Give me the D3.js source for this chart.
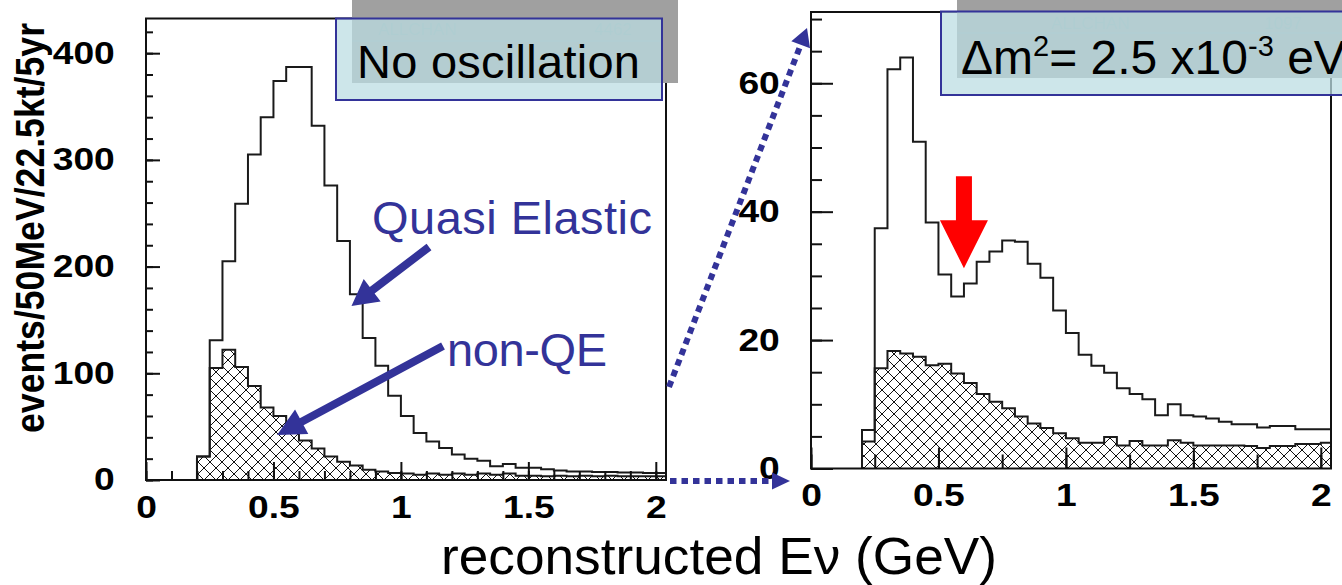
<!DOCTYPE html>
<html>
<head>
<meta charset="utf-8">
<script src="https://cdn.jsdelivr.net/npm/d3@7"></script>
<style>
  body { margin: 0; background: #fff; }
  svg { display: block; }
</style>
</head>
<body>
<svg id="chart" width="1342" height="585"></svg>
<script>
// 50 MeV bins starting at 0.2 GeV
const binLow = 0.2;
const binWidth = 0.05;

// no oscillation: total (QE + non-QE) and non-QE part
const totalNoOsc = [22, 131, 205, 259, 305, 340, 374, 387, 387, 332, 276, 224, 174, 133, 107, 79,
    60, 44, 36, 30, 24, 20, 18, 13, 15, 11.5, 11.5, 10, 9, 8, 8, 7.5, 7.5, 7, 7, 6.5, 6.5];
const nonQENoOsc = [22, 105, 122, 106, 88, 68, 60, 47, 37, 29.5, 22, 17, 13.5, 9.5, 8, 6.5,
    6, 5, 6, 5, 6, 5, 6, 5, 6, 4, 4, 3.5, 4, 3.5, 4, 3.5, 4, 3.5, 3.5, 3.5, 3.5];

// dm2 = 2.5e-3 eV2
const totalOsc = [6, 37.4, 62.2, 64, 50.9, 38.3, 30.2, 26.8, 28.8, 32.2, 33.8, 35.5, 35.3, 31.9, 29.7, 24.6,
    21.1, 17.7, 16, 14.9, 12.5, 11.6, 10.8, 8.3, 10, 8.3, 8.1, 7.8, 7.3, 6.9, 6.9, 6.4, 6.6, 6.6, 6.1, 6.1, 6.1];
const nonQEOsc = [4.2, 15.6, 18.3, 17.9, 17.4, 16.1, 16.3, 14.8, 13.3, 11.6, 10.4, 9.4, 8.1, 7, 6.3, 5.5,
    4.7, 4, 4, 4.9, 3.6, 4.3, 3.6, 3.6, 4.4, 4, 3.6, 3.6, 3.6, 3.6, 3.5, 3.2, 3.5, 3.5, 3.8, 3.8, 4];

const xTickLabels = [0, 0.5, 1, 1.5, 2];
const yTicksNoOsc = [0, 100, 200, 300, 400];
const yTicksOsc = [0, 20, 40, 60];

const FONT = "'Liberation Sans', Arial, Helvetica, sans-serif";
const BLUE = "#333399";

const svg = d3.select("#chart");
const defs = svg.append("defs");

const hatch = defs.append("pattern")
    .attr("id", "xhatch")
    .attr("patternUnits", "userSpaceOnUse")
    .attr("width", 12)
    .attr("height", 12);
hatch.append("path")
    .attr("d", "M0,0L12,12M12,0L0,12")
    .attr("stroke", "#111")
    .attr("stroke-width", 1);

function stepPoints(vals) {
    const pts = [[binLow, 0]];
    vals.forEach((v, i) => pts.push([binLow + i * binWidth, v]));
    const end = binLow + vals.length * binWidth;
    pts.push([end, vals[vals.length - 1]]);
    pts.push([end, 0]);
    return pts;
}

function drawPanel(p) {
    const x = d3.scaleLinear().domain([0, 2.04]).range([p.left, p.right]);
    const y = d3.scaleLinear().domain([0, p.yMax]).range([p.bottom, p.top]);

    const clipId = "clip-" + p.id;
    defs.append("clipPath").attr("id", clipId)
        .append("rect")
        .attr("x", p.left).attr("y", p.top)
        .attr("width", p.right - p.left).attr("height", p.bottom - p.top);

    const g = svg.append("g");
    const plot = g.append("g").attr("clip-path", `url(#${clipId})`);

    const area = d3.area()
        .x(d => x(d[0]))
        .y0(y(0))
        .y1(d => y(d[1]))
        .curve(d3.curveStepAfter);
    const line = d3.line()
        .x(d => x(d[0]))
        .y(d => y(d[1]))
        .curve(d3.curveStepAfter);

    plot.append("path")
        .attr("d", area(stepPoints(p.nonQE)))
        .attr("fill", "url(#xhatch)");
    plot.append("path")
        .attr("d", line(stepPoints(p.nonQE)))
        .attr("fill", "none")
        .attr("stroke", "#1a1a1a")
        .attr("stroke-width", 2);
    plot.append("path")
        .attr("d", line(stepPoints(p.total)))
        .attr("fill", "none")
        .attr("stroke", "#1a1a1a")
        .attr("stroke-width", 2);

    // ticks point inward, ROOT style
    const minorY = d3.range(0, p.yMax, p.yMinorStep);
    g.append("g")
        .attr("transform", `translate(${p.left},0)`)
        .call(d3.axisLeft(y).tickValues(minorY).tickSizeInner(-p.yMinorLen).tickSizeOuter(0).tickFormat(""))
        .call(s => s.select(".domain").remove());
    const yAx = g.append("g")
        .attr("transform", `translate(${p.left},0)`)
        .call(d3.axisLeft(y).tickValues(p.yTicks).tickSizeInner(-p.yMajorLen).tickSizeOuter(0).tickPadding(26))
        .call(s => s.select(".domain").remove());

    const minorX = d3.range(0, 2.04, p.xMinorStep);
    g.append("g")
        .attr("transform", `translate(0,${p.bottom})`)
        .call(d3.axisBottom(x).tickValues(minorX).tickSizeInner(-p.xMinorLen).tickSizeOuter(0).tickFormat(""))
        .call(s => s.select(".domain").remove());
    const xAx = g.append("g")
        .attr("transform", `translate(0,${p.bottom})`)
        .call(d3.axisBottom(x).tickValues(xTickLabels).tickSizeInner(-p.xMajorLen).tickSizeOuter(0)
            .tickPadding(p.xLabelPad).tickFormat(d3.format("")))
        .call(s => s.select(".domain").remove());

    [xAx, yAx].forEach(a => {
        a.selectAll("text")
            .attr("font-family", FONT)
            .attr("font-size", 31)
            .attr("font-weight", "bold")
            .attr("fill", "#000")
            .attr("transform", "scale(1.2,1)");
    });
    g.selectAll("line").attr("stroke", "#111").attr("stroke-width", 2);

    return { g, x, y };
}

function statsBox(b) {
    // grey shadow of the ROOT stats box with its faint content
    const grey = svg.append("g");
    grey.append("rect")
        .attr("x", b.greyX).attr("y", 0)
        .attr("width", b.greyW).attr("height", b.greyH)
        .attr("fill", "#a0a0a0");
    grey.append("text")
        .attr("x", b.allX).attr("y", b.allY)
        .attr("font-family", FONT).attr("font-size", 17)
        .attr("fill", "#8d9d9f")
        .text("ALLCHAN");
    grey.append("text")
        .attr("x", b.numX).attr("y", b.allY)
        .attr("font-family", FONT).attr("font-size", 17)
        .attr("fill", "#8d9d9f")
        .text(b.num);
    grey.append("line")
        .attr("x1", b.greyX).attr("x2", b.greyX + b.greyW - 18)
        .attr("y1", b.lineY).attr("y2", b.lineY)
        .attr("stroke", "#95a5a7").attr("stroke-width", 1.5);
}

const left = drawPanel({
    id: "noosc", left: 146, right: 666, top: 18.5, bottom: 480, yMax: 432.5,
    total: totalNoOsc, nonQE: nonQENoOsc, yTicks: yTicksNoOsc,
    yMinorStep: 20, yMinorLen: 7, yMajorLen: 14,
    xMinorStep: 0.1, xMinorLen: 9, xMajorLen: 18, xLabelPad: 16
});

const right = drawPanel({
    id: "osc", left: 811, right: 1331, top: 12, bottom: 468.5, yMax: 71.1,
    total: totalOsc, nonQE: nonQEOsc, yTicks: yTicksOsc,
    yMinorStep: 5, yMinorLen: 11, yMajorLen: 22,
    xMinorStep: 0.25, xMinorLen: 14, xMajorLen: 21, xLabelPad: 15
});

// frames
[[146, 18.5, 666, 480], [811, 12, 1331, 468.5]].forEach(([x0, y0, x1, y1]) => {
    svg.append("rect")
        .attr("x", x0).attr("y", y0)
        .attr("width", x1 - x0).attr("height", y1 - y0)
        .attr("fill", "none")
        .attr("stroke", "#111")
        .attr("stroke-width", 2);
});

// stats shadows + label boxes
statsBox({ greyX: 352, greyW: 326, greyH: 83, allX: 378, allY: 35, numX: 594, num: "4462", lineY: 41 });
statsBox({ greyX: 957, greyW: 420, greyH: 78, allX: 1051, allY: 29, numX: 1264, num: "1097", lineY: 33 });

function labelBox(x, y, w, h) {
    svg.append("rect")
        .attr("x", x).attr("y", y)
        .attr("width", w).attr("height", h)
        .attr("fill", "rgb(187,221,227)")
        .attr("fill-opacity", 0.74)
        .attr("stroke", BLUE)
        .attr("stroke-width", 2);
}
labelBox(336, 18.5, 326, 81.5);
labelBox(941, 11.5, 420, 83.5);

svg.append("text")
    .attr("x", 357).attr("y", 78)
    .attr("font-family", FONT).attr("font-size", 47)
    .attr("textLength", 283)
    .attr("fill", "#000")
    .text("No oscillation");

const dm = svg.append("text")
    .attr("x", 961).attr("y", 74)
    .attr("font-family", FONT).attr("font-size", 48)
    .attr("fill", "#000");
dm.append("tspan").text("\u0394m");
dm.append("tspan").attr("font-size", 29).attr("dy", -18).text("2");
dm.append("tspan").attr("dy", 18).text("= 2.5 x10");
dm.append("tspan").attr("font-size", 29).attr("dy", -18).text("-3");
dm.append("tspan").attr("dy", 18).text(" eV");

// blue annotation arrows
function arrowPoly(x1, y1, x2, y2, shaft, headW, headL) {
    const dx = x2 - x1, dy = y2 - y1, L = Math.hypot(dx, dy);
    const ux = dx / L, uy = dy / L, nx = -uy, ny = ux;
    const bx = x2 - ux * headL, by = y2 - uy * headL;
    return [
        [x1 + nx * shaft / 2, y1 + ny * shaft / 2],
        [bx + nx * shaft / 2, by + ny * shaft / 2],
        [bx + nx * headW / 2, by + ny * headW / 2],
        [x2, y2],
        [bx - nx * headW / 2, by - ny * headW / 2],
        [bx - nx * shaft / 2, by - ny * shaft / 2],
        [x1 - nx * shaft / 2, y1 - ny * shaft / 2]
    ].map(d => d.join(",")).join(" ");
}

svg.append("polygon")
    .attr("points", arrowPoly(429, 247, 351.5, 306, 8, 28, 26))
    .attr("fill", BLUE);
svg.append("polygon")
    .attr("points", arrowPoly(443, 346, 277, 435, 8, 28, 28))
    .attr("fill", BLUE);

svg.append("text")
    .attr("x", 372).attr("y", 234)
    .attr("font-family", FONT).attr("font-size", 47)
    .attr("textLength", 280)
    .attr("fill", BLUE)
    .text("Quasi Elastic");
svg.append("text")
    .attr("x", 447).attr("y", 366)
    .attr("font-family", FONT).attr("font-size", 47)
    .attr("textLength", 160)
    .attr("fill", BLUE)
    .text("non-QE");

// red arrow at the oscillation dip
svg.append("polygon")
    .attr("points", arrowPoly(right.x(0.6), right.y(45.5), right.x(0.6), right.y(31.2), 16, 48, 48))
    .attr("fill", "#ff0000");

// dotted zoom arrows between the panels
svg.append("line")
    .attr("x1", 670).attr("y1", 481).attr("x2", 774).attr("y2", 481)
    .attr("stroke", BLUE).attr("stroke-width", 6)
    .attr("stroke-dasharray", "6.5,5");
svg.append("polygon")
    .attr("points", "772,472.5 790,481 772,489.5")
    .attr("fill", BLUE);

svg.append("line")
    .attr("x1", 669).attr("y1", 387).attr("x2", 801).attr("y2", 44)
    .attr("stroke", BLUE).attr("stroke-width", 6)
    .attr("stroke-dasharray", "6.5,5");
svg.append("polygon")
    .attr("points", arrowPoly(801, 44, 807, 28, 0, 20, 18))
    .attr("fill", BLUE);

// axis titles
svg.append("text")
    .attr("transform", "translate(44,433) rotate(-90)")
    .attr("font-family", FONT).attr("font-size", 40)
    .attr("font-weight", "bold")
    .attr("textLength", 410)
    .attr("lengthAdjust", "spacingAndGlyphs")
    .attr("fill", "#000")
    .text("events/50MeV/22.5kt/5yr");

svg.append("text")
    .attr("x", 719).attr("y", 574)
    .attr("text-anchor", "middle")
    .attr("font-family", FONT).attr("font-size", 52)
    .attr("textLength", 556)
    .attr("lengthAdjust", "spacingAndGlyphs")
    .attr("fill", "#000")
    .text("reconstructed E\u03bd (GeV)");
</script>
</body>
</html>
